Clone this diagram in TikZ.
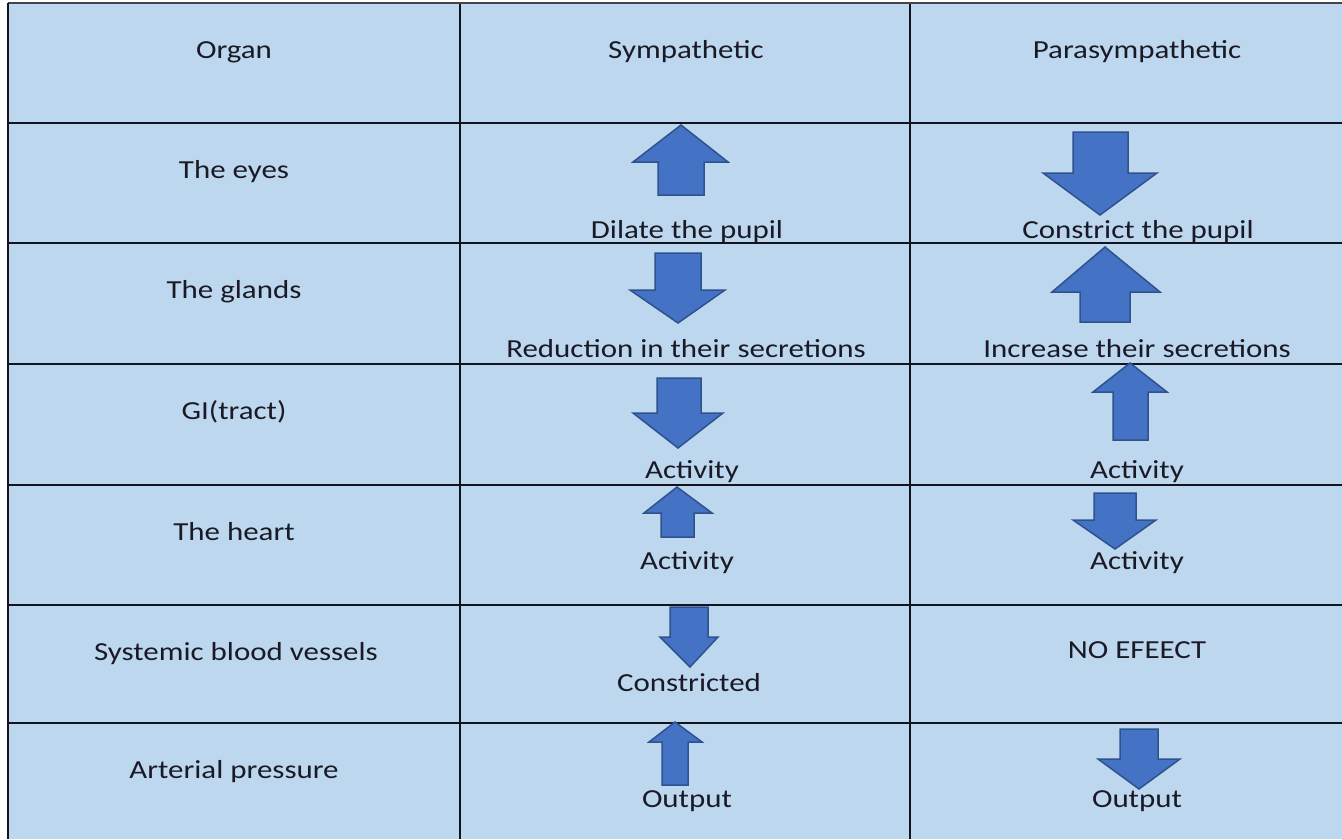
\documentclass[tikz,border=0pt]{standalone}
\usepackage{fontspec}
\setmainfont{Carlito}
\definecolor{cellblue}{HTML}{BDD7EE}
\definecolor{arrowfill}{HTML}{4472C4}
\definecolor{arrowedge}{HTML}{2F528F}
\definecolor{rulecol}{HTML}{14141E}
\definecolor{ink}{HTML}{1A1A26}
\newcommand{\wtext}[1]{\scalebox{1.19}[1]{#1}}
% block arrow: tip x, tip y, head base y, head left, head right, shaft left, shaft right, shaft end y
\newcommand{\blockarrow}[8]{%
  \filldraw[arrowstyle] (#1,#2) -- (#5,#3) -- (#7,#3) -- (#7,#8) -- (#6,#8) -- (#6,#3) -- (#4,#3) -- cycle;}
\tikzset{
  celltext/.style={font=\fontsize{26}{30}\selectfont, text=ink, inner sep=0pt, anchor=base},
  arrowstyle/.style={fill=arrowfill, draw=arrowedge, line width=1.5pt, line join=miter},
  gridline/.style={draw=rulecol, line width=2pt},
}
\begin{document}
\begin{tikzpicture}[x=1pt, y=-1pt]
\useasboundingbox (0,0) rectangle (1342,839);
\fill[white] (0,0) rectangle (1342,839);
\fill[cellblue] (8,3) rectangle (1342,839);

% table rules
\foreach \yy in {123,243,364,485,605,723} \draw[gridline] (8,\yy) -- (1342,\yy);
\foreach \xx in {460,910} \draw[gridline] (\xx,3) -- (\xx,839);
\draw[draw=rulecol!80!white, line width=2.5pt] (8,3) -- (1342,3);
\draw[gridline] (8,3) -- (8,839);

% headers
\node[celltext] (hOrgan) at (234,58) {\wtext{Organ}};
\node[celltext] (hSym) at (686,58) {\wtext{Sympathetic}};
\node[celltext] (hPara) at (1137,58) {\wtext{Parasympathetic}};

% organ column
\node[celltext] (oEyes) at (234,178) {\wtext{The eyes}};
\node[celltext] (oGlands) at (234,298) {\wtext{The glands}};
\node[celltext] (oGI) at (234,419) {\wtext{GI(tract)}};
\node[celltext] (oHeart) at (234,540) {\wtext{The heart}};
\node[celltext] (oVessels) at (236,660) {\wtext{Systemic blood vessels}};
\node[celltext] (oPressure) at (234,778) {\wtext{Arterial pressure}};

% arrows
\blockarrow{681}{125}{162}{633}{728}{658}{704}{195}
\blockarrow{1100}{215}{173}{1043}{1157}{1073}{1128}{132}
\blockarrow{678}{323}{290}{630}{725}{655}{701}{253}
\blockarrow{1105}{247}{292}{1052}{1160}{1080}{1130}{322}
\blockarrow{678}{448}{413}{633}{723}{657}{701}{378}
\blockarrow{677}{487}{513}{644}{712}{661}{694}{537}
\blockarrow{1130}{363}{392}{1093}{1167}{1113}{1148}{440}
\blockarrow{1115}{549}{520}{1073}{1156}{1094}{1136}{493}
\blockarrow{690}{667}{637}{660}{718}{670}{708}{607}
\blockarrow{675}{722}{742}{649}{702}{662}{688}{785}
\blockarrow{1139}{789}{759}{1098}{1180}{1120}{1158}{729}

% effect labels
\node[celltext] (sEyes) at (687,238) {\wtext{Dilate the pupil}};
\node[celltext] (pEyes) at (1138,238) {\wtext{Constrict the pupil}};
\node[celltext] (sGlands) at (686,357) {\wtext{Reduction in their secretions}};
\node[celltext] (pGlands) at (1137,357) {\wtext{Increase their secretions}};
\node[celltext] (sGI) at (692,478) {\wtext{Activity}};
\node[celltext] (pGI) at (1137,478) {\wtext{Activity}};
\node[celltext] (sHeart) at (687,569) {\wtext{Activity}};
\node[celltext] (pHeart) at (1137,569) {\wtext{Activity}};
\node[celltext] (sVessels) at (689,691) {\wtext{Constricted}};
\node[celltext] (pVessels) at (1137,658) {\wtext{NO EFEECT}};
\node[celltext] (sPressure) at (687,807) {\wtext{Output}};
\node[celltext] (pPressure) at (1137,807) {\wtext{Output}};
\end{tikzpicture}
\end{document}
